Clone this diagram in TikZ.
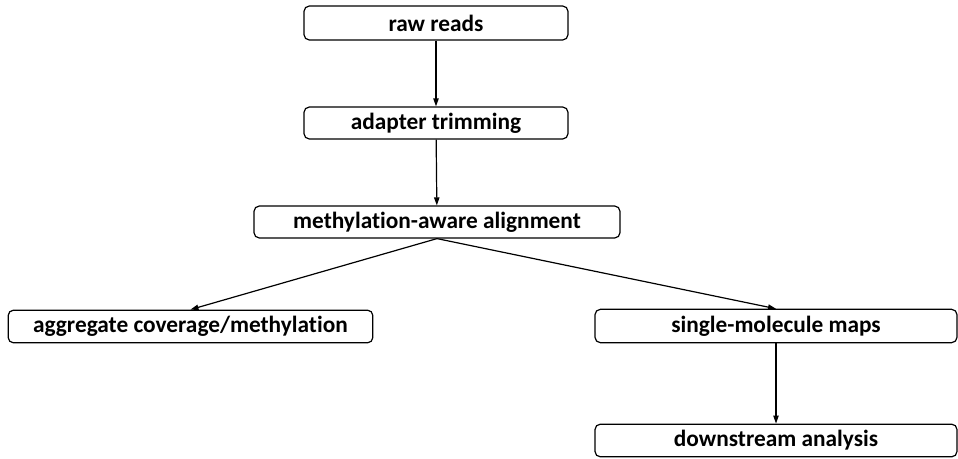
\documentclass[tikz,border=0pt]{standalone}
\usepackage{fontspec}
\setmainfont{Carlito}[Ligatures={NoCommon}]
\usetikzlibrary{arrows.meta}

\tikzset{
  stagebox/.style={draw, rounded corners=4pt, line width=0.9pt, inner sep=0pt,
    font=\bfseries\fontsize{17.5}{21}\selectfont},
  flow/.style={line width=0.9pt, -{Triangle[length=6pt,width=4pt]}}
}

\begin{document}
\begin{tikzpicture}[x=0.75pt,y=0.75pt,yscale=-1,xscale=1]
%set diagram left start at 0, and has height of 458
\path[use as bounding box] (0,0) rectangle (958,458);

%Stages
\node[stagebox, minimum width=198pt, minimum height=25.5pt] (raw) at (436,23) {raw reads};
\node[stagebox, minimum width=198pt, minimum height=24pt] (trim) at (436,123) {adapter trimming};
\node[stagebox, minimum width=274.5pt, minimum height=24pt] (align) at (437,222) {methylation-aware alignment};
\node[stagebox, minimum width=273.5pt, minimum height=24.5pt] (agg) at (190.5,326.5) {aggregate coverage/methylation};
\node[stagebox, minimum width=271.5pt, minimum height=25pt] (single) at (776,326) {single-molecule maps};
\node[stagebox, minimum width=271.5pt, minimum height=24.5pt] (down) at (776,440.5) {downstream analysis};

%Connectors
\draw[flow] (raw) -- (trim);
\draw[flow] (trim) -- (align);
\draw[flow] (align.south) -- (agg.north);
\draw[flow] (align.south) -- (single.north);
\draw[flow] (single) -- (down);

\end{tikzpicture}
\end{document}
